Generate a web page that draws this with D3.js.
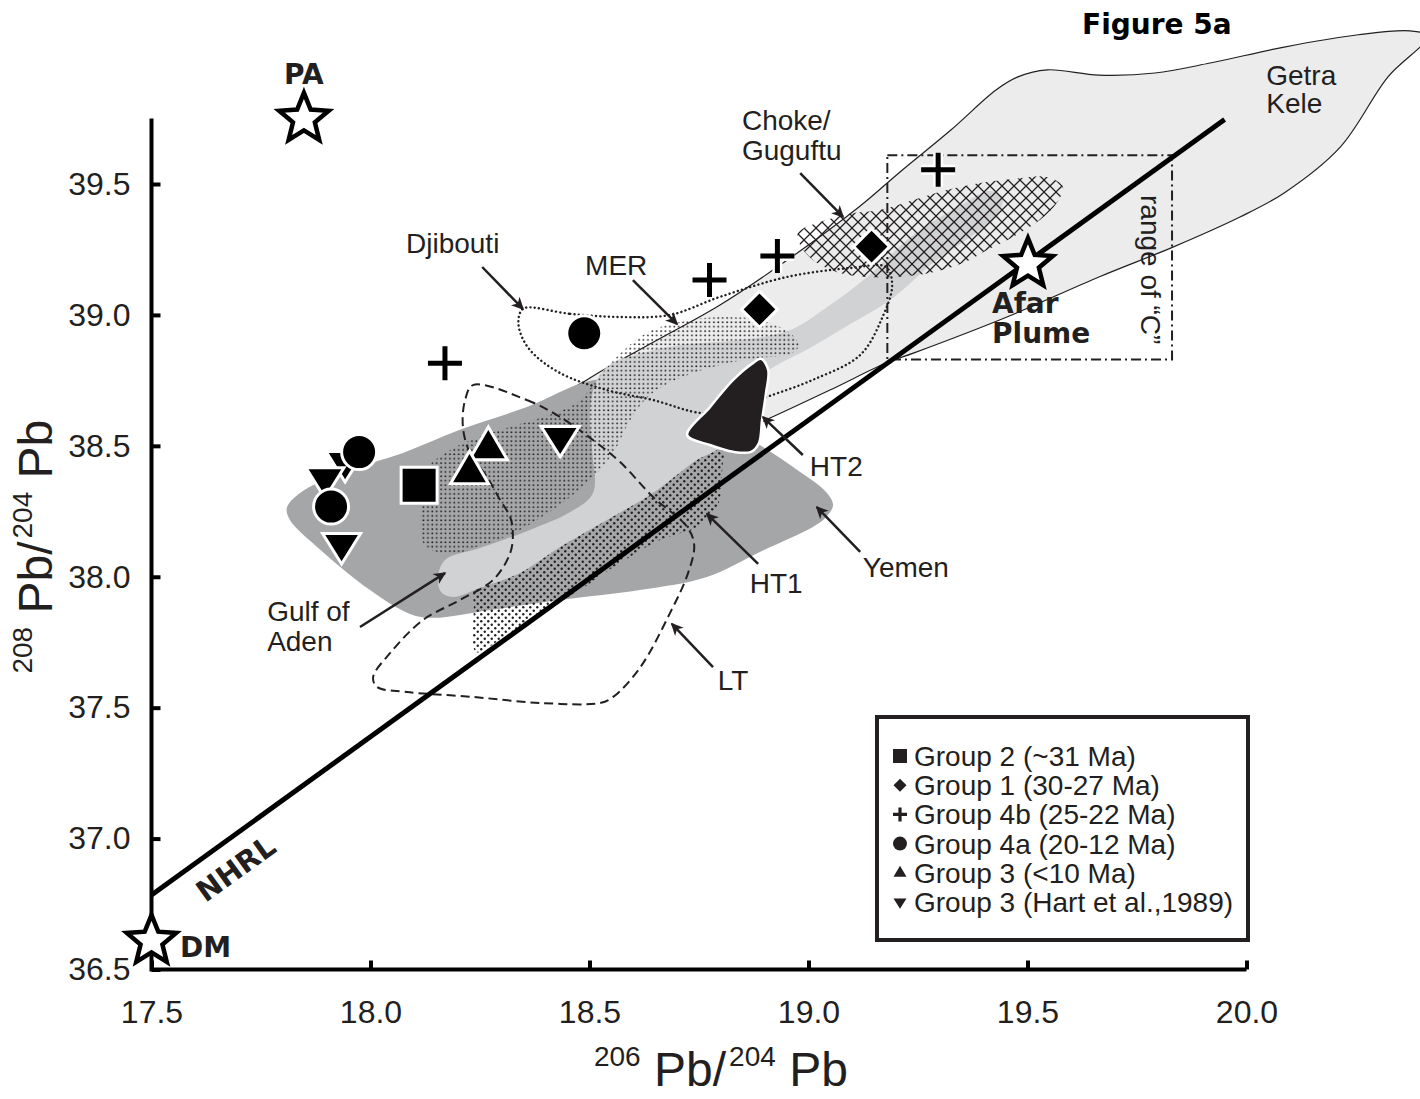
<!DOCTYPE html>
<html>
<head>
<meta charset="utf-8">
<script src="https://cdn.jsdelivr.net/npm/d3@7"></script>
<style>
  html, body { margin: 0; padding: 0; background: #fff; }
  svg { display: block; }
</style>
</head>
<body>
<svg id="chart" width="1420" height="1099"></svg>
<script>
// ---------- axis ticks ----------
const xTicks = [17.5, 18.0, 18.5, 19.0, 19.5, 20.0];
const yTicks = [36.5, 37.0, 37.5, 38.0, 38.5, 39.0, 39.5];

// ---------- sample groups: [206Pb/204Pb, 208Pb/204Pb] ----------
const group2     = [[18.111, 38.349]];
const group1     = [[18.888, 39.021], [19.144, 39.261]];
const group4b    = [[18.170, 38.815], [18.774, 39.133], [18.929, 39.225], [19.296, 39.554]];
const group4a    = [[17.974, 38.476], [17.910, 38.268], [18.488, 38.930]];
const group3     = [[18.269, 38.492], [18.226, 38.400]];
const group3Hart = [[17.942, 38.438], [17.896, 38.376], [17.934, 38.125], [18.433, 38.534]];

// ---------- mantle end-members ----------
const endmembers = [
  { name: "PA", x: 17.848, y: 39.749 },
  { name: "DM", x: 17.500, y: 36.609 },
  { name: "Afar Plume", x: 19.501, y: 39.194 }
];

// Northern Hemisphere Reference Line (Hart, 1984)
const nhrl = { slope: 1.209, intercept: 15.627, x: [17.5, 19.95] };

// ---------- literature fields (outline vertices in data units) ----------
const getraKele = [
  [18.501, 38.759], [18.638, 38.889], [18.798, 39.038], [18.958, 39.217], [19.118, 39.416],
  [19.209, 39.546], [19.325, 39.706], [19.428, 39.859], [19.478, 39.909], [19.545, 39.936],
  [19.663, 39.916], [19.791, 39.924], [19.917, 39.962], [20.086, 40.023], [20.255, 40.070],
  [20.373, 40.085], [20.414, 40.065], [20.323, 39.909], [20.214, 39.641], [20.086, 39.466],
  [19.985, 39.374], [19.832, 39.259], [19.663, 39.145], [19.453, 38.992], [19.241, 38.855],
  [19.182, 38.820], [19.049, 38.713], [18.903, 38.599], [18.798, 38.522], [18.615, 38.599],
  [18.433, 38.675]
];
const yemen = [
  [17.809, 38.263], [17.839, 38.320], [17.937, 38.400], [18.074, 38.473], [18.204, 38.561],
  [18.357, 38.648], [18.517, 38.752], [18.638, 38.713], [18.752, 38.629], [18.896, 38.496],
  [18.981, 38.400], [19.040, 38.324], [19.056, 38.274], [19.038, 38.224], [19.010, 38.190],
  [18.889, 38.095], [18.768, 37.999], [18.615, 37.949], [18.433, 37.911], [18.273, 37.873],
  [18.143, 37.843], [18.090, 37.858], [17.999, 37.949], [17.878, 38.114], [17.816, 38.217]
];
const gulfOfAden = [
  [18.154, 37.995], [18.170, 38.064], [18.250, 38.110], [18.364, 38.179], [18.456, 38.247],
  [18.508, 38.320], [18.506, 38.484], [18.501, 38.637], [18.517, 38.752], [18.551, 38.816],
  [18.604, 38.847], [18.707, 38.885], [18.844, 38.904], [18.958, 38.942], [19.049, 39.038],
  [19.134, 39.145], [19.239, 39.305], [19.353, 39.424], [19.414, 39.473], [19.444, 39.447],
  [19.433, 39.389], [19.392, 39.324], [19.284, 39.198], [19.193, 39.065], [19.088, 38.958],
  [19.003, 38.874], [18.905, 38.782], [18.855, 38.675], [18.798, 38.496], [18.745, 38.446],
  [18.645, 38.320], [18.540, 38.217], [18.433, 38.114], [18.341, 38.014], [18.250, 37.957],
  [18.188, 37.923], [18.161, 37.942]
];
const mer = [
  [18.124, 38.121], [18.115, 38.274], [18.131, 38.415], [18.182, 38.484], [18.273, 38.549],
  [18.387, 38.606], [18.474, 38.667], [18.519, 38.759], [18.574, 38.858], [18.634, 38.935],
  [18.707, 38.973], [18.798, 38.992], [18.889, 38.981], [18.958, 38.931], [18.978, 38.881],
  [18.958, 38.851], [18.889, 38.836], [18.798, 38.809], [18.707, 38.759], [18.638, 38.694],
  [18.593, 38.599], [18.558, 38.484], [18.524, 38.408], [18.456, 38.305], [18.341, 38.179],
  [18.250, 38.118], [18.182, 38.087]
];
const ht1 = [
  [18.236, 37.892], [18.241, 37.713], [18.296, 37.759], [18.387, 37.858], [18.478, 37.949],
  [18.570, 38.053], [18.661, 38.140], [18.752, 38.198], [18.793, 38.274], [18.803, 38.408],
  [18.803, 38.522], [18.707, 38.446], [18.570, 38.293], [18.433, 38.179], [18.296, 38.045],
  [18.236, 37.988]
];
const ht2 = [
  [18.723, 38.541], [18.775, 38.648], [18.828, 38.752], [18.873, 38.816], [18.892, 38.832],
  [18.908, 38.790], [18.903, 38.702], [18.894, 38.599], [18.887, 38.511], [18.869, 38.477],
  [18.828, 38.477], [18.775, 38.503]
];
const djibouti = [
  [18.353, 39.027], [18.456, 39.004], [18.570, 38.992], [18.684, 39.000], [18.798, 39.069],
  [18.951, 39.145], [19.095, 39.179], [19.177, 39.183], [19.191, 39.114], [19.168, 38.988],
  [19.118, 38.847], [19.010, 38.752], [18.905, 38.687], [18.832, 38.645], [18.759, 38.625],
  [18.645, 38.675], [18.540, 38.713], [18.433, 38.778], [18.364, 38.866], [18.339, 38.950],
  [18.341, 39.007]
];
const chokeGuguftu = [
  [18.976, 39.313], [19.042, 39.363], [19.102, 39.389], [19.163, 39.401], [19.239, 39.439],
  [19.316, 39.477], [19.392, 39.504], [19.467, 39.519], [19.545, 39.527], [19.581, 39.489],
  [19.567, 39.428], [19.529, 39.363], [19.467, 39.298], [19.408, 39.248], [19.353, 39.198],
  [19.277, 39.160], [19.202, 39.145], [19.134, 39.145], [19.072, 39.160], [19.010, 39.210],
  [18.981, 39.267]
];
const lowTi = [
  [18.234, 38.732], [18.357, 38.675], [18.433, 38.610], [18.508, 38.522], [18.570, 38.438],
  [18.645, 38.305], [18.723, 38.190], [18.739, 38.121], [18.725, 38.014], [18.684, 37.862],
  [18.615, 37.652], [18.554, 37.541], [18.524, 37.518], [18.387, 37.518], [18.234, 37.541],
  [18.083, 37.560], [18.015, 37.579], [18.006, 37.617], [18.045, 37.709], [18.120, 37.835],
  [18.204, 37.911], [18.280, 37.988], [18.319, 38.091], [18.325, 38.167], [18.319, 38.228],
  [18.296, 38.293], [18.266, 38.381], [18.227, 38.473], [18.211, 38.572], [18.216, 38.675]
];
// compositional range of the "C" component
const rangeC = { x: [19.18, 19.83], y: [38.83, 39.61] };

// ---------- field labels and their pointer arrows ----------
const fieldLabels = [
  { text: "Getra",    x: 20.045, y: 39.878 },
  { text: "Kele",     x: 20.045, y: 39.771 },
  { text: "Choke/",   x: 18.848, y: 39.705 },
  { text: "Guguftu",  x: 18.848, y: 39.590 },
  { text: "Djibouti", x: 18.081, y: 39.237 },
  { text: "MER",      x: 18.490, y: 39.153 },
  { text: "HT2",      x: 19.003, y: 38.385 },
  { text: "HT1",      x: 18.866, y: 37.938 },
  { text: "Yemen",    x: 19.124, y: 37.999 },
  { text: "LT",       x: 18.793, y: 37.568 },
  { text: "Gulf of",  x: 17.764, y: 37.831 },
  { text: "Aden",     x: 17.764, y: 37.716 }
];
const fieldArrows = [
  { from: [18.981, 39.542], to: [19.079, 39.374] },
  { from: [18.255, 39.183], to: [18.348, 39.023] },
  { from: [18.599, 39.133], to: [18.700, 38.965] },
  { from: [18.987, 38.465], to: [18.896, 38.610] },
  { from: [18.885, 38.049], to: [18.768, 38.240] },
  { from: [19.118, 38.095], to: [19.019, 38.266] },
  { from: [18.782, 37.655], to: [18.688, 37.820] },
  { from: [17.976, 37.808], to: [18.170, 38.014] }
];

const legendItems = [
  { shape: "square",  text: "Group 2 (~31 Ma)" },
  { shape: "diamond", text: "Group 1 (30-27 Ma)" },
  { shape: "cross",   text: "Group 4b (25-22 Ma)" },
  { shape: "circle",  text: "Group 4a (20-12 Ma)" },
  { shape: "up",      text: "Group 3 (<10 Ma)" },
  { shape: "down",    text: "Group 3 (Hart et al.,1989)" }
];

// ======================================================================
const ink = "#231f20";
const sans = "'Liberation Sans', Arial, Helvetica, sans-serif";
const heavy = "'DejaVu Sans', 'Liberation Sans', sans-serif";

const svg = d3.select("#chart");
const x = d3.scaleLinear().domain([17.5, 20]).range([151.5, 1246.5]);
const y = d3.scaleLinear().domain([36.5, 39.5]).range([969.5, 184]);

const defs = svg.append("defs");
const fine = defs.append("pattern").attr("id", "stippleFine")
  .attr("patternUnits", "userSpaceOnUse").attr("width", 4.4).attr("height", 4.4);
fine.append("circle").attr("cx", 1.1).attr("cy", 1.1).attr("r", 0.95).attr("fill", ink);

const coarse = defs.append("pattern").attr("id", "stippleCoarse")
  .attr("patternUnits", "userSpaceOnUse").attr("width", 7).attr("height", 7);
coarse.append("circle").attr("cx", 1.75).attr("cy", 1.75).attr("r", 1.2).attr("fill", ink);
coarse.append("circle").attr("cx", 5.25).attr("cy", 5.25).attr("r", 1.2).attr("fill", ink);

const hatch = defs.append("pattern").attr("id", "crossHatch")
  .attr("patternUnits", "userSpaceOnUse").attr("width", 12).attr("height", 12);
hatch.append("path").attr("d", "M-1,-1L13,13M13,-1L-1,13")
  .attr("stroke", ink).attr("stroke-width", 1.3).attr("fill", "none");

defs.append("marker").attr("id", "arrowHead")
  .attr("viewBox", "-13 -7 15 14").attr("refX", 0).attr("refY", 0)
  .attr("markerWidth", 15).attr("markerHeight", 14)
  .attr("markerUnits", "userSpaceOnUse").attr("orient", "auto")
  .append("path").attr("d", "M1.5,0L-11,-6L-7.5,0L-11,6Z").attr("fill", ink);

const outline = d3.line().x(d => x(d[0])).y(d => y(d[1]))
  .curve(d3.curveCatmullRomClosed.alpha(0.5));

const fields = svg.append("g");
fields.append("path").attr("d", outline(getraKele))
  .attr("fill", "#ececec").attr("stroke", ink).attr("stroke-width", 1.2);
fields.append("path").attr("d", outline(yemen)).attr("fill", "#a5a6a8");
fields.append("path").attr("d", outline(ht1)).attr("fill", "url(#stippleCoarse)");
fields.append("path").attr("d", outline(gulfOfAden)).attr("fill", "#d1d2d4");
fields.append("path").attr("d", outline(mer)).attr("fill", "url(#stippleFine)");
fields.append("path").attr("d", outline(chokeGuguftu)).attr("fill", "url(#crossHatch)");
fields.append("path").attr("d", outline(djibouti)).attr("fill", "none")
  .attr("stroke", ink).attr("stroke-width", 2.4).attr("stroke-linecap", "round")
  .attr("stroke-dasharray", "0.1 4.2");
fields.append("path").attr("d", outline(lowTi)).attr("fill", "none")
  .attr("stroke", ink).attr("stroke-width", 2).attr("stroke-dasharray", "9 5");
fields.append("path").attr("d", outline(ht2))
  .attr("fill", ink).attr("stroke", "#fff").attr("stroke-width", 2.5);

// range of "C"
fields.append("rect")
  .attr("x", x(rangeC.x[0])).attr("y", y(rangeC.y[1]))
  .attr("width", x(rangeC.x[1]) - x(rangeC.x[0]))
  .attr("height", y(rangeC.y[0]) - y(rangeC.y[1]))
  .attr("fill", "none").attr("stroke", ink).attr("stroke-width", 2)
  .attr("stroke-dasharray", "10 4 2 4");

// NHRL
const nhrlY = v => nhrl.slope * v + nhrl.intercept;
svg.append("line")
  .attr("x1", x(nhrl.x[0])).attr("y1", y(nhrlY(nhrl.x[0])))
  .attr("x2", x(nhrl.x[1])).attr("y2", y(nhrlY(nhrl.x[1])))
  .attr("stroke", "#000").attr("stroke-width", 5);

// ---------- axes ----------
const yAxis = d3.axisLeft(y).tickValues(yTicks).tickFormat(d3.format(".1f"))
  .tickSizeInner(-9).tickSizeOuter(0).tickPadding(21);
const gy = svg.append("g").attr("transform", `translate(${x(17.5)},0)`).call(yAxis);
const xAxis = d3.axisBottom(x).tickValues(xTicks).tickFormat(d3.format(".1f"))
  .tickSizeInner(-9).tickSizeOuter(0).tickPadding(31);
const gx = svg.append("g").attr("transform", `translate(0,${y(36.5)})`).call(xAxis);
[gx, gy].forEach(g => {
  g.select(".domain").remove();
  g.selectAll(".tick line").attr("stroke", "#000").attr("stroke-width", 4);
  g.selectAll(".tick text").attr("fill", ink)
    .style("font-family", sans).style("font-size", "32px");
});
svg.append("path")
  .attr("d", `M${x(17.5)},${y(39.75)}V${y(36.5)}H${x(20)}`)
  .attr("fill", "none").attr("stroke", "#000").attr("stroke-width", 4)
  .attr("stroke-linejoin", "miter");

// axis titles: superscript mass numbers before each Pb
function isotopeTitle(sel, top) {
  sel.append("tspan").attr("font-size", 28).attr("dy", -20).text(top);
  sel.append("tspan").attr("font-size", 48).attr("dy", 20).text(" Pb/");
  sel.append("tspan").attr("font-size", 28).attr("dy", -20).attr("dx", 3).text("204");
  sel.append("tspan").attr("font-size", 48).attr("dy", 20).text(" Pb");
}
const yTitle = svg.append("text")
  .attr("transform", `translate(52,${y(38.115)}) rotate(-90)`)
  .attr("text-anchor", "middle").attr("fill", ink).style("font-family", sans);
isotopeTitle(yTitle, "208");

const xTitle = svg.append("text")
  .attr("transform", `translate(${x(18.80)},1086)`)
  .attr("text-anchor", "middle").attr("fill", ink).style("font-family", sans);
isotopeTitle(xTitle, "206");

// ---------- annotations ----------
svg.append("g").selectAll("line").data(fieldArrows).join("line")
  .attr("x1", d => x(d.from[0])).attr("y1", d => y(d.from[1]))
  .attr("x2", d => x(d.to[0])).attr("y2", d => y(d.to[1]))
  .attr("stroke", ink).attr("stroke-width", 2.5)
  .attr("marker-end", "url(#arrowHead)");

svg.append("g").selectAll("text").data(fieldLabels).join("text")
  .attr("x", d => x(d.x)).attr("y", d => y(d.y))
  .attr("fill", ink).style("font-family", sans).style("font-size", "28px")
  .text(d => d.text);

svg.append("text")
  .attr("transform", `translate(${x(19.759)},${y(39.458)}) rotate(90)`)
  .attr("fill", ink).style("font-family", sans).style("font-size", "28px")
  .text("range of \u201CC\u201D");

const nhrlAngle = Math.atan2(y(nhrlY(nhrl.x[1])) - y(nhrlY(nhrl.x[0])),
                             x(nhrl.x[1]) - x(nhrl.x[0])) * 180 / Math.PI;
svg.append("text")
  .attr("transform", `translate(${x(17.692)},${y(36.886)}) rotate(${nhrlAngle})`)
  .attr("text-anchor", "middle").attr("dy", "0.36em")
  .attr("fill", ink).style("font-family", heavy).style("font-weight", "bold")
  .style("font-size", "29px").text("NHRL");

// ---------- sample symbols ----------
const shapes = {
  square:  s => `M${-s},${-s}H${s}V${s}H${-s}Z`,
  diamond: s => `M0,${-s}L${s},0L0,${s}L${-s},0Z`,
  up:      s => `M0,${-s * 1.1}L${s},${s * 0.62}L${-s},${s * 0.62}Z`,
  down:    s => `M0,${s * 1.05}L${s},${-s * 0.55}L${-s},${-s * 0.55}Z`
};
const marks = svg.append("g");
function filledSymbols(data, shape, s) {
  marks.append("g").selectAll("path").data(data).join("path")
    .attr("transform", d => `translate(${x(d[0])},${y(d[1])})`)
    .attr("d", shapes[shape](s))
    .attr("fill", "#000").attr("stroke", "#fff").attr("stroke-width", 3);
}
filledSymbols(group3Hart, "down", 19);
marks.append("g").selectAll("circle").data(group4a).join("circle")
  .attr("cx", d => x(d[0])).attr("cy", d => y(d[1])).attr("r", 17.5)
  .attr("fill", "#000").attr("stroke", "#fff").attr("stroke-width", 3);
filledSymbols(group2, "square", 18);
filledSymbols(group3, "up", 19);
filledSymbols(group1, "diamond", 18);
const crossPath = "M-17,0H17M0,-17V17";
const crosses = marks.append("g").selectAll("g").data(group4b).join("g")
  .attr("transform", d => `translate(${x(d[0])},${y(d[1])})`);
crosses.append("path").attr("d", crossPath).attr("stroke", "#fff").attr("stroke-width", 10);
crosses.append("path").attr("d", crossPath).attr("stroke", "#000").attr("stroke-width", 5);

// ---------- end-member stars ----------
function starPath(R, r) {
  const pts = d3.range(10).map(i => {
    const a = -Math.PI / 2 + i * Math.PI / 5, rad = i % 2 ? r : R;
    return [rad * Math.cos(a), rad * Math.sin(a)];
  });
  return "M" + pts.map(p => p.join(",")).join("L") + "Z";
}
svg.append("g").selectAll("path").data(endmembers).join("path")
  .attr("transform", d => `translate(${x(d.x)},${y(d.y)})`)
  .attr("d", starPath(26, 11.5))
  .attr("fill", "#fff").attr("stroke", "#000").attr("stroke-width", 4.5);

const emText = (t, px, py, anchor) => svg.append("text")
  .attr("x", px).attr("y", py).attr("text-anchor", anchor)
  .attr("fill", ink).style("font-family", heavy).style("font-weight", "bold")
  .style("font-size", "28px").text(t);
emText("PA", x(17.848), y(39.882), "middle");
emText("DM", x(17.565), y(36.548), "start");
emText("Afar", x(19.419), y(39.007), "start");
emText("Plume", x(19.419), y(38.893), "start");

// ---------- legend ----------
const lg = svg.append("g").attr("transform", "translate(877,717)");
lg.append("rect").attr("width", 371).attr("height", 223)
  .attr("fill", "#fff").attr("stroke", ink).attr("stroke-width", 4);
const rows = lg.selectAll("g.row").data(legendItems).join("g").attr("class", "row")
  .attr("transform", (d, i) => `translate(23,${39 + i * 29.2})`);
rows.each(function (d) {
  const g = d3.select(this);
  if (d.shape === "circle") g.append("circle").attr("r", 7).attr("fill", ink);
  else if (d.shape === "cross") g.append("path").attr("d", "M-7,0H7M0,-7V7")
    .attr("stroke", ink).attr("stroke-width", 3.2);
  else {
    const size = { square: 7, diamond: 6.5, up: 6.5, down: 6.5 }[d.shape];
    g.append("path").attr("d", shapes[d.shape](size)).attr("fill", ink);
  }
});
rows.append("text").attr("x", 14).attr("y", 10)
  .attr("fill", ink).style("font-family", sans).style("font-size", "28px")
  .text(d => d.text);

// ---------- figure tag ----------
svg.append("text").attr("x", 1082).attr("y", 34)
  .attr("fill", "#000").style("font-family", heavy).style("font-weight", "bold")
  .style("font-size", "28px").text("Figure 5a");
</script>
</body>
</html>
